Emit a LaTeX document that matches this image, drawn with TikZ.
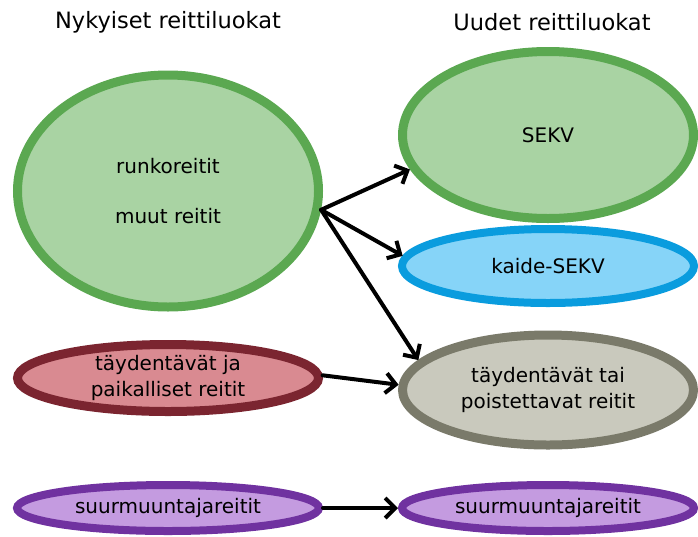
\documentclass[tikz,border=0pt]{standalone}
\usepackage{fontspec}
\setmainfont{DejaVu Sans}
\usetikzlibrary{shapes.geometric,arrows.meta}
\definecolor{grnline}{HTML}{5BA851}
\definecolor{grnfill}{HTML}{A9D3A3}
\definecolor{bluline}{HTML}{0A9CDE}
\definecolor{blufill}{HTML}{86D4F8}
\definecolor{redline}{HTML}{7B2530}
\definecolor{redfill}{HTML}{D98A91}
\definecolor{gryline}{HTML}{7A7A6A}
\definecolor{gryfill}{HTML}{C9C9BD}
\definecolor{purline}{HTML}{7032A0}
\definecolor{purfill}{HTML}{C49BE0}
\begin{document}
\begin{tikzpicture}[x=1pt,y=-1pt,line cap=round,
  oval/.style={ellipse,draw,line width=9pt,inner sep=0pt,align=center,
    font=\fontsize{20}{26}\selectfont},
  conn/.style={-{Straight Barb[length=10pt,width=20pt]},line width=4pt}]
  \useasboundingbox (0,0) rectangle (698,536);
  % column titles
  \node (hnow) at (168,22) {\fontsize{22.5}{26}\selectfont Nykyiset reittiluokat};
  \node (hnew) at (552,22) {\fontsize{22.5}{26}\selectfont Uudet reittiluokat};
  % current classes
  \node[oval,draw=grnline,fill=grnfill,minimum width=301,minimum height=232] (runko) at (168,191)
    {runkoreitit\\[24pt]muut reitit};
  \node[oval,draw=redline,fill=redfill,minimum width=301,minimum height=67] (taydj) at (168,378)
    {täydentävät ja\\paikalliset reitit};
  \node[oval,draw=purline,fill=purfill,line width=8pt,minimum width=302,minimum height=46] (suurA) at (168,508)
    {suurmuuntajareitit};
  % new classes
  \node[oval,draw=grnline,fill=grnfill,minimum width=291,minimum height=167] (sekv) at (548,135) {SEKV};
  \node[oval,draw=bluline,fill=blufill,line width=8pt,minimum width=292,minimum height=74] (kaide) at (548,266)
    {kaide-SEKV};
  \node[oval,draw=gryline,fill=gryfill,minimum width=291,minimum height=110] (taydt) at (548,390)
    {täydentävät tai\\poistettavat reitit};
  \node[oval,draw=purline,fill=purfill,line width=8pt,minimum width=292,minimum height=46] (suurB) at (548,508)
    {suurmuuntajareitit};
  % arrows
  \draw[conn] (runko.-7) -- (sekv.194);
  \draw[conn] (runko.-7) -- (kaide.176);
  \draw[conn] (runko.-7) -- (taydt.167);
  \draw[conn] (taydj.1) -- (taydt.178);
  \draw[conn] (suurA) -- (suurB);
\end{tikzpicture}
\end{document}
